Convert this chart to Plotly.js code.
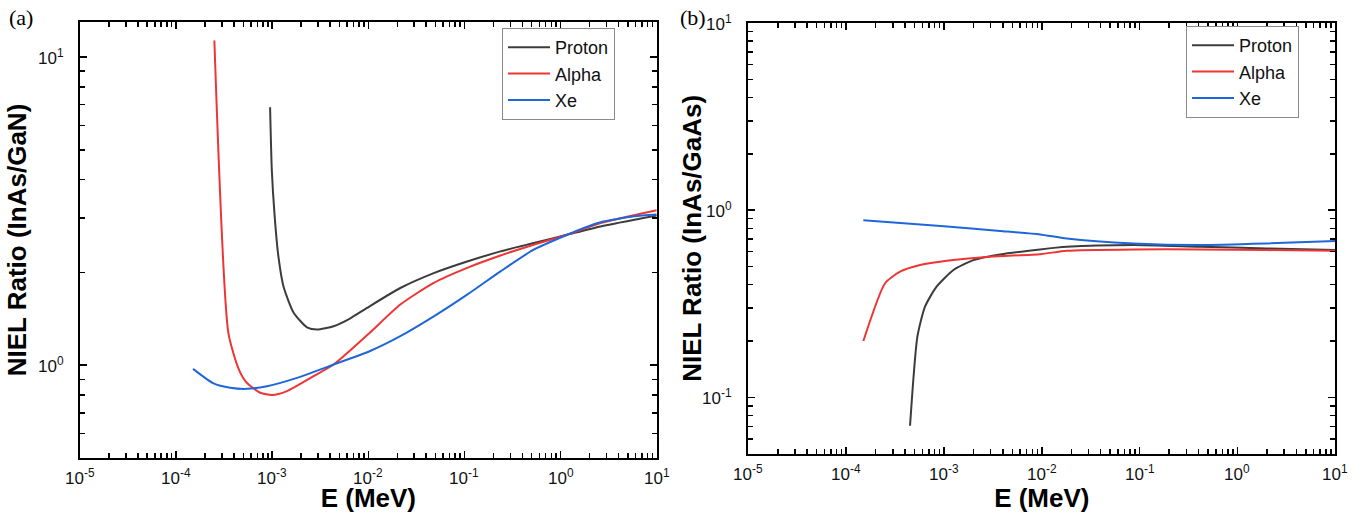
<!DOCTYPE html>
<html>
<head>
<meta charset="utf-8">
<script src="https://cdn.plot.ly/plotly-3.0.1.min.js"></script>
<style>html,body{margin:0;padding:0;background:#fff;}#chart{width:1360px;height:521px;}</style>
</head>
<body>
<div id="chart"></div>
<script>
// ---- Panel (a): NIEL ratio InAs/GaN ----
const protonA_E = [9.5e-4, 9.9e-4, 1.06e-3, 1.16e-3, 1.31e-3, 1.67e-3, 2.3e-3, 2.92e-3, 4.35e-3, 6.5e-3, 9.7e-3, 2.15e-2, 4.79e-2, 0.1067, 0.237, 0.525, 1.17, 2.61, 10];
const protonA_R = [6.87, 4.3, 3.04, 2.25, 1.80, 1.48, 1.327, 1.305, 1.338, 1.42, 1.535, 1.78, 1.99, 2.17, 2.34, 2.49, 2.65, 2.82, 3.06];
const alphaA_E = [2.5e-4, 3.5e-4, 4.5e-4, 5.44e-4, 7.5e-4, 1.0e-3, 1.42e-3, 2.69e-3, 4.35e-3, 1.03e-2, 2.15e-2, 4.79e-2, 0.1067, 0.237, 0.525, 1.17, 2.61, 10];
const alphaA_R = [11.3, 1.27, 0.968, 0.877, 0.814, 0.80, 0.824, 0.921, 1.005, 1.273, 1.573, 1.85, 2.07, 2.27, 2.46, 2.65, 2.89, 3.18];
const xeA_E = [1.5e-4, 2.45e-4, 3.65e-4, 5.44e-4, 8.8e-4, 1.81e-3, 4.35e-3, 1.03e-2, 2.15e-2, 4.79e-2, 0.1067, 0.237, 0.525, 1.17, 1.75, 2.61, 5.8, 10];
const xeA_R = [0.973, 0.873, 0.845, 0.838, 0.855, 0.910, 1.005, 1.11, 1.242, 1.44, 1.694, 2.016, 2.37, 2.65, 2.79, 2.91, 3.04, 3.08];

// ---- Panel (b): NIEL ratio InAs/GaAs ----
const protonB_E = [4.5e-4, 5.35e-4, 6.4e-4, 8.4e-4, 1.25e-3, 2.0e-3, 3.75e-3, 9.6e-3, 1.8e-2, 8.65e-2, 0.416, 2.0, 10];
const protonB_R = [0.0705, 0.211, 0.305, 0.390, 0.479, 0.541, 0.58, 0.617, 0.637, 0.651, 0.637, 0.625, 0.612];
const alphaB_E = [1.5e-4, 2.5e-4, 3.56e-4, 5.7e-4, 1.07e-3, 2.96e-3, 9.6e-3, 1.8e-2, 8.65e-2, 0.416, 2.0, 10];
const alphaB_R = [0.2, 0.407, 0.469, 0.509, 0.537, 0.564, 0.582, 0.607, 0.617, 0.617, 0.612, 0.607];
const xeB_E = [1.5e-4, 1.0e-3, 3.75e-3, 9.6e-3, 1.8e-2, 8.65e-2, 0.416, 2.0, 10];
const xeB_R = [0.884, 0.82, 0.775, 0.742, 0.706, 0.664, 0.651, 0.664, 0.684];

const seriesNames = ['Proton', 'Alpha', 'Xe'];
const seriesColors = ['#3c3c3c', '#ee3535', '#1f66d9'];

// ---- tick labels ----
const xTickVals = [1e-5, 1e-4, 1e-3, 1e-2, 1e-1, 1, 10];
const xTickText = ['10<sup>-5</sup>', '10<sup>-4</sup>', '10<sup>-3</sup>', '10<sup>-2</sup>', '10<sup>-1</sup>', '10<sup>0</sup>', '10<sup>1</sup>'];
const yTickValsA = [1, 10];
const yTickTextA = ['10<sup>0</sup>', '10<sup>1</sup>'];
const yTickValsB = [0.1, 1, 10];
const yTickTextB = ['10<sup>-1</sup>', '10<sup>0</sup>', '10<sup>1</sup>'];

const FONT = 'Arial, "Liberation Sans", sans-serif';

function line(x, y, i, xa, ya, leg) {
  return {x: x, y: y, type: 'scatter', mode: 'lines', name: seriesNames[i],
    xaxis: xa, yaxis: ya, legend: leg,
    line: {color: seriesColors[i], width: 2, shape: 'spline', smoothing: 0.6}};
}

const data = [
  line(protonA_E, protonA_R, 0, 'x', 'y', 'legend'),
  line(alphaA_E, alphaA_R, 1, 'x', 'y', 'legend'),
  line(xeA_E, xeA_R, 2, 'x', 'y', 'legend'),
  line(protonB_E, protonB_R, 0, 'x2', 'y2', 'legend2'),
  line(alphaB_E, alphaB_R, 1, 'x2', 'y2', 'legend2'),
  line(xeB_E, xeB_R, 2, 'x2', 'y2', 'legend2')
];

const XRANGE = [-5, 1];

// frame axis: line, decade ticks + automatic minor ticks, mirrored; labels drawn as annotations below
function axis(dom, anchor, range, title, standoff) {
  return {type: 'log', range: range, domain: dom, anchor: anchor,
    showline: true, linecolor: '#000', linewidth: 2, mirror: 'ticks',
    ticks: 'inside', ticklen: 7, tickwidth: 1.5, tickcolor: '#000',
    tickmode: 'linear', dtick: 1, showticklabels: false,
    minor: {ticks: 'inside', ticklen: 5, tickwidth: 1.5, tickcolor: '#000', showgrid: false},
    showgrid: false, zeroline: false, automargin: false,
    title: {text: title, font: {family: FONT, size: 26, weight: 'bold', color: '#000'}, standoff: standoff}};
}

const rangeA = [Math.log10(0.5), 1.1134];
const rangeB = [Math.log10(0.05), 1.0];
const W = 1360, H = 521;

const legendStyle = {xanchor: 'left', yanchor: 'top', bordercolor: '#8a8a8a', borderwidth: 1, bgcolor: '#fff',
  itemwidth: 42, font: {family: FONT, size: 18, color: '#111'}};

const tickFont = {family: FONT, size: 17, color: '#111'};
const annotations = [
  {text: '(a)', xref: 'paper', yref: 'paper', x: 7 / W, y: 1 - 3 / H, xanchor: 'left', yanchor: 'top', showarrow: false,
    font: {family: '"Liberation Serif", "Times New Roman", serif', size: 22, color: '#000'}},
  {text: '(b)', xref: 'paper', yref: 'paper', x: 678 / W, y: 1 - 3 / H, xanchor: 'left', yanchor: 'top', showarrow: false,
    font: {family: '"Liberation Serif", "Times New Roman", serif', size: 22, color: '#000'}}
];
// x tick labels for both panels
[['x', 'y'], ['x2', 'y2']].forEach(p => {
  xTickVals.forEach((v, i) => annotations.push({text: xTickText[i], xref: p[0], yref: p[1] + ' domain',
    x: Math.log10(v), y: 0, xanchor: 'center', yanchor: 'top', yshift: -6, showarrow: false, font: tickFont}));
});
// y tick labels
function yLabels(vals, texts, xa, ya) {
  vals.forEach((v, i) => annotations.push({text: texts[i], xref: xa + ' domain', yref: ya,
    x: 0, y: Math.log10(v), xanchor: 'right', yanchor: 'middle', xshift: -14, showarrow: false, font: tickFont}));
}
yLabels(yTickValsA, yTickTextA, 'x', 'y');
yLabels(yTickValsB, yTickTextB, 'x2', 'y2');

const layout = {
  width: W, height: H,
  margin: {l: 0, r: 0, t: 0, b: 0},
  paper_bgcolor: '#fff', plot_bgcolor: '#fff',
  showlegend: true,
  xaxis: axis([80 / W, 656.7 / W], 'y', XRANGE, 'E (MeV)', 30),
  yaxis: axis([(H - 458) / H, (H - 22) / H], 'x', rangeA, 'NIEL Ratio (InAs/GaN)', 44),
  xaxis2: axis([748.3 / W, 1335.3 / W], 'y2', XRANGE, 'E (MeV)', 34),
  yaxis2: axis([(H - 453.7) / H, (H - 23) / H], 'x2', rangeB, 'NIEL Ratio (InAs/GaAs)', 37),
  legend: Object.assign({x: 502 / W, y: 1 - 28 / H}, legendStyle),
  legend2: Object.assign({x: 1186 / W, y: 1 - 26 / H}, legendStyle),
  annotations: annotations
};

Plotly.newPlot('chart', data, layout, {staticPlot: true, displayModeBar: false});
</script>
</body>
</html>
